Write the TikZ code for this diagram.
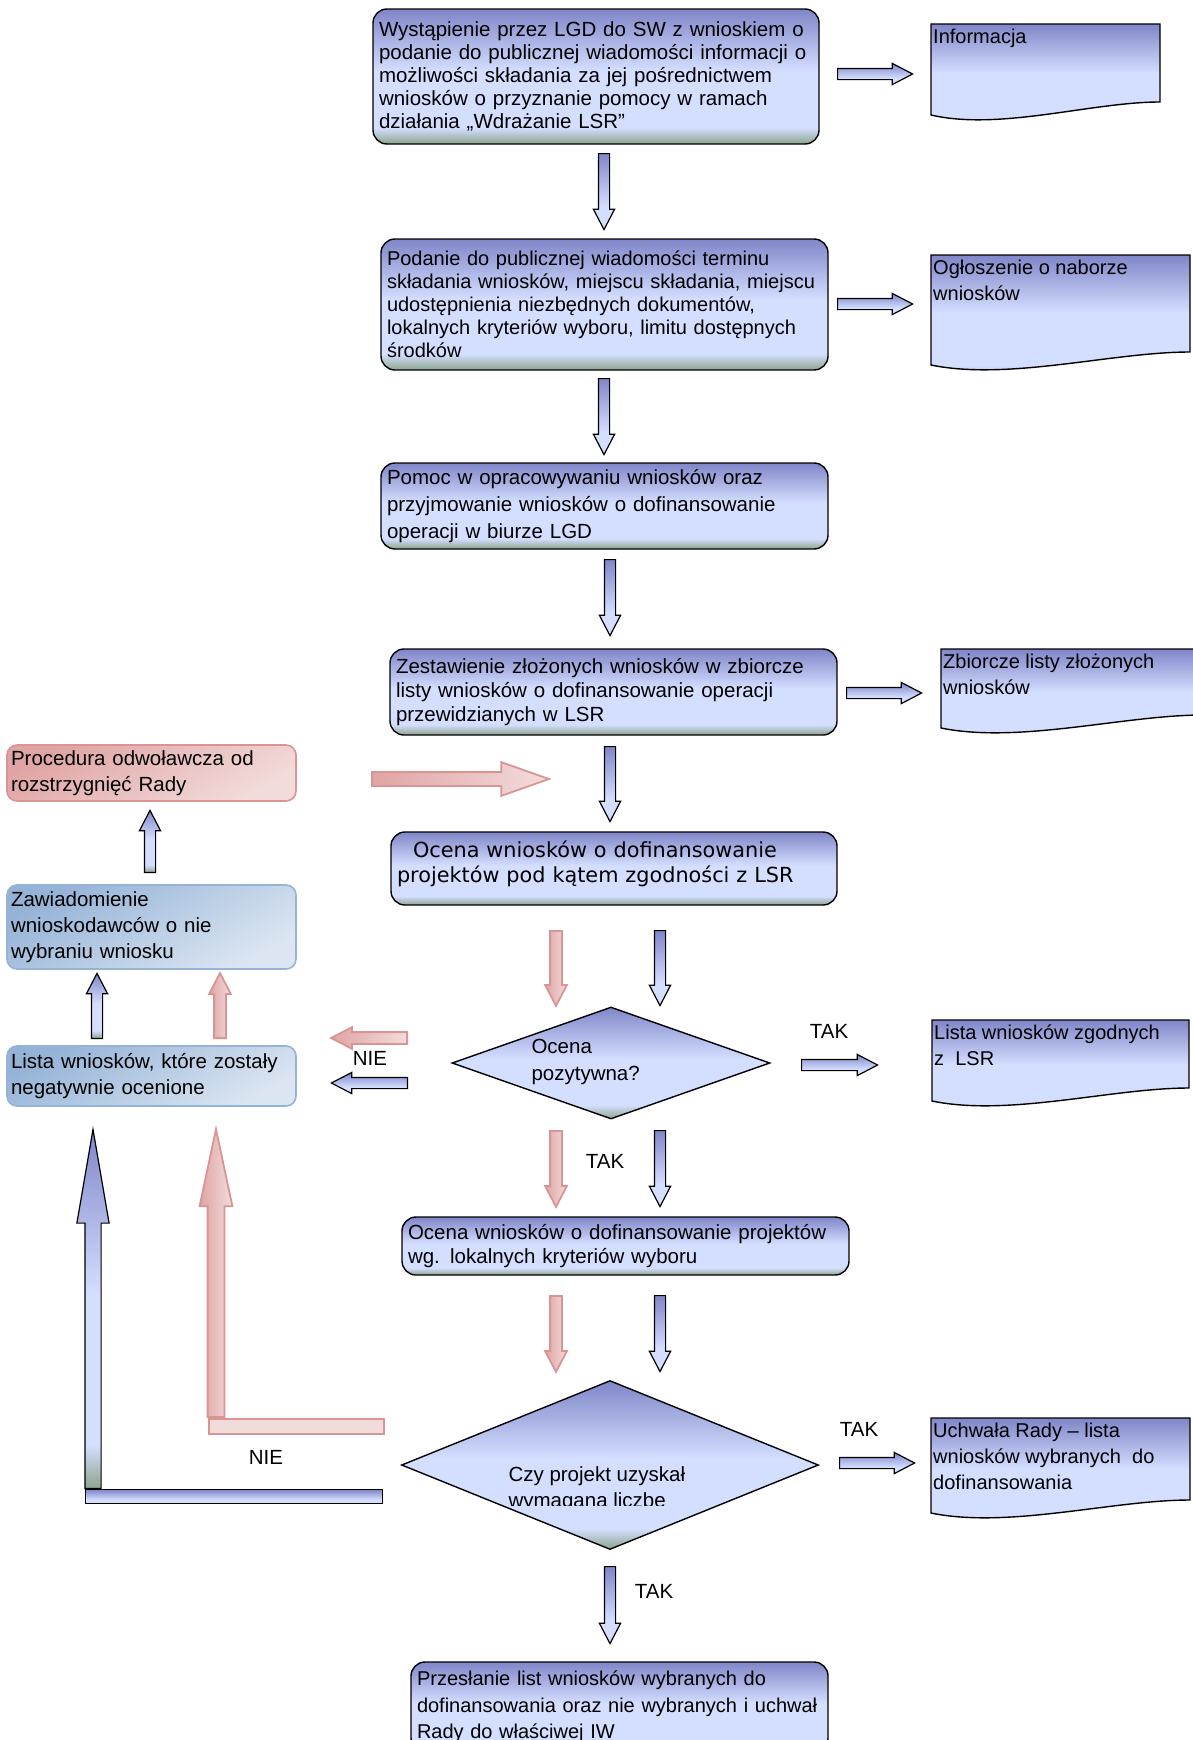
\documentclass[tikz,border=0pt]{standalone}
\usepackage{fontspec}
\setmainfont{Liberation Sans}
\newfontfamily\verdanafont{DejaVu Sans}
\usetikzlibrary{
  calc,
  positioning,
  shapes,
}
\definecolor{bdark}{RGB}{128,134,200}
\definecolor{blight}{RGB}{212,222,255}
\definecolor{bgreen}{RGB}{140,164,140}
\definecolor{pinkline}{RGB}{217,149,148}
\definecolor{pinkdark}{RGB}{224,164,164}
\definecolor{pinkfill}{RGB}{242,220,219}
\definecolor{steel}{RGB}{149,179,215}
\definecolor{steellight}{RGB}{220,230,242}
\pgfdeclareverticalshading{boxshade}{100bp}{color(0bp)=(bgreen); color(25bp)=(bgreen);
  color(31bp)=(blight); color(52bp)=(blight); color(75bp)=(bdark); color(100bp)=(bdark)}
\pgfdeclareverticalshading{arrshade}{100bp}{color(0bp)=(blight); color(40bp)=(blight);
  color(75bp)=(bdark); color(100bp)=(bdark)}
\tikzset{
  x=1pt, y=-1pt,
  txt/.style={font=\fontsize{20.5}{#1}\selectfont},
  txt/.default=23,
  box/.style={draw, line width=1.4pt, rounded corners=14pt, shade, shading=boxshade,
    align=left, inner xsep=6pt, inner ysep=0pt},
  sbox/.style={draw=steel, line width=1.6pt, rounded corners=10pt, align=left,
    inner xsep=4pt, inner ysep=0pt, top color=steel, bottom color=steellight,
    shading angle=30},
  rbox/.style={sbox, draw=pinkline, top color=pinkdark, bottom color=pinkfill,
    shading angle=30},
  doc/.style={draw, line width=1.4pt, shade, shading=boxshade},
  doctxt/.style={anchor=north west, align=left, inner xsep=2pt, inner ysep=5pt,
    font=\fontsize{20}{26}\selectfont},
  dec/.style={diamond, draw, line width=1.4pt, shade, shading=boxshade, inner sep=0pt},
  arr/.style={single arrow, anchor=tail, inner sep=5pt, minimum height=76pt,
    single arrow head extend=5pt, single arrow tip angle=55},
  barr/.style={arr, draw, line width=1.2pt, shade, shading=arrshade},
  rarr/.style={arr, draw=pinkline, line width=1.8pt, left color=pinkdark,
    right color=pinkfill},
  bar/.style={anchor=north west, minimum height=14pt, inner sep=0pt},
}
% document shape: corner, width, height
\newcommand\docpath[3]{%
  \draw[doc] (#1) -- ++(#2,0) -- ++(0,#3-13)
    .. controls +(-0.3*#2,0) and +(0.3*#2,16) .. ($(#1)+(0,#3)$) -- cycle;
}

\begin{document}
\begin{tikzpicture}
  \useasboundingbox (0,0) rectangle (1193,1740);
  % main column
  \node[box, txt, text width=434pt, minimum height=135pt](b1) at (596,76.5)
    {\mbox{Wystąpienie przez LGD do SW z wnioskiem o}\\\mbox{podanie do publicznej wiadomości informacji o}\\możliwości składania za jej pośrednictwem\\wniosków o przyznanie pomocy w ramach\\działania „Wdrażanie LSR”};
  \node[box, font=\fontsize{20}{23}\selectfont, text width=435pt, minimum height=131pt](b2) at (604.5,304.5)
    {Podanie do publicznej wiadomości terminu\\\mbox{składania wniosków, miejscu składania, miejscu}\\udostępnienia niezbędnych dokumentów,\\\mbox{lokalnych kryteriów wyboru, limitu dostępnych}\\środków};
  \node[box, txt=26.6, text width=435pt, minimum height=86pt](b3) at (604.5,506)
    {Pomoc w opracowywaniu wniosków oraz\\przyjmowanie wniosków o dofinansowanie\\operacji w biurze LGD};
  \node[box, txt=24, text width=435pt, minimum height=86pt](b4) at (613.5,692)
    {Zestawienie złożonych wniosków w zbiorcze\\listy wniosków o dofinansowanie operacji\\przewidzianych w LSR};
  \node[box, font=\verdanafont\fontsize{20.8}{24.5}\selectfont, text width=434pt,
    text depth=38.5pt, minimum height=73pt](b5) at (614,868.5)
    {\hspace*{16pt}Ocena wniosków o dofinansowanie\\projektów pod kątem zgodności z LSR};
  \node[dec, minimum width=318pt, minimum height=112pt](d1) at (611,1063){};
  \node[txt=27, align=left, anchor=west](d1t) at (528,1062){Ocena\\pozytywna?};
  \node[box, txt=24.4, text width=435pt, minimum height=58pt](b6) at (625.5,1246)
    {\mbox{Ocena wniosków o dofinansowanie projektów}\\wg. lokalnych kryteriów wyboru};
  \node[dec, minimum width=417pt, minimum height=169pt](d2) at (610,1465){};
  \begin{scope}
    \clip (402,1400) rectangle (820,1505);
    \node[txt=26, align=left, anchor=west](d2t) at (505,1489)
      {Czy projekt uzyskał\\wymaganą liczbę};
  \end{scope}
  \node[box, font=\fontsize{20}{26.6}\selectfont, text width=405pt, minimum height=90pt](b7) at (619.5,1707)
    {\mbox{Przesłanie list wniosków wybranych do}\\\mbox{dofinansowania oraz nie wybranych i uchwał}\\\mbox{Rady do właściwej IW}};
  %% documents
  \coordinate (infc) at (931,24);
  \docpath{infc}{229}{91}
  \node[doctxt](inf) at (infc){Informacja};
  \coordinate (oglc) at (931,255);
  \docpath{oglc}{259}{110}
  \node[doctxt](ogl) at (oglc){Ogłoszenie o naborze\\wniosków};
  \coordinate (zbc) at (941,649);
  \docpath{zbc}{262}{79}
  \node[doctxt](zb) at (zbc){Zbiorcze listy złożonych\\wniosków};
  \coordinate (lzc) at (932,1020);
  \docpath{lzc}{257}{81}
  \node[doctxt](lz) at (lzc){Lista wniosków zgodnych\\z\ \ LSR};
  \coordinate (uchc) at (931,1418);
  \docpath{uchc}{259}{95}
  \node[doctxt](uch) at (uchc){Uchwała Rady – lista\\wniosków wybranych\ \ do\\dofinansowania};
  %% left column
  \node[rbox, txt=26.6, text width=281pt, minimum height=56pt](pr) at (151.5,773)
    {Procedura odwoławcza od\\rozstrzygnięć Rady};
  \node[sbox, txt=26, text width=281pt, minimum height=84pt](za) at (151.5,927)
    {Zawiadomienie\\wnioskodawców o nie\\wybraniu wniosku};
  \node[sbox, txt=26.6, text width=281pt, minimum height=60pt](ln) at (151.5,1076)
    {Lista wniosków, które zostały\\negatywnie ocenione};
  %% labels
  \node[txt](tak1) at (829,1031){TAK};
  \node[txt](nie1) at (370,1058){NIE};
  \node[txt](tak2) at (605,1161){TAK};
  \node[txt](tak3) at (859,1429){TAK};
  \node[txt](nie2) at (266,1457){NIE};
  \node[txt](tak4) at (654,1591){TAK};
  %% block arrows
  \node[barr, shape border rotate=270](v1) at (604,153){};
  \node[barr, shape border rotate=270](v2) at (604,378){};
  \node[barr, shape border rotate=270](v3) at (610,559){};
  \node[barr, shape border rotate=270, minimum height=75pt](v4) at (610,746){};
  \node[barr, shape border rotate=270, minimum height=75pt](v5) at (660,930){};
  \node[rarr, shape border rotate=270, minimum height=75pt](r5) at (556,930){};
  \node[barr, shape border rotate=270](v6) at (660,1130){};
  \node[rarr, shape border rotate=270](r6) at (556,1130){};
  \node[barr, shape border rotate=270](v7) at (660,1295){};
  \node[rarr, shape border rotate=270](r7) at (556,1295){};
  \node[barr, shape border rotate=270, minimum height=77pt](v8) at (610,1566){};
  \node[barr, minimum height=75pt](h1) at (837,74){};
  \node[barr, minimum height=75pt](h2) at (837,304){};
  \node[barr, minimum height=75pt](h4) at (846,693){};
  \node[barr](h5) at (801,1065){};
  \node[barr, minimum height=75pt](h6) at (839,1463){};
  \node[rarr, shape border rotate=180](lr) at (408,1038){};
  \node[barr, shape border rotate=180](lb) at (408,1083){};
  \node[barr, shading=boxshade, shape border rotate=90, minimum height=62pt](u1) at (150,873){};
  \node[barr, shading=boxshade, shape border rotate=90, minimum height=65pt](u2) at (97,1039){};
  \node[rarr, shape border rotate=90, minimum height=65pt](ru2) at (220,1039){};
  \node[rarr, inner sep=6pt, single arrow head extend=10pt, single arrow tip angle=39,
    minimum height=177pt](pa) at (371,779){};
  %% long returns
  \node[bar, draw=pinkline, line width=1.8pt, fill=pinkfill, minimum width=175pt,
    minimum height=15pt](rbar) at (208,1418){};
  \node[rarr, shape border rotate=90, inner sep=7.5pt, single arrow head extend=8pt,
    single arrow tip angle=24, minimum height=288pt](rl) at (216,1418){};
  \node[bar, draw, line width=1.4pt, shade, shading=arrshade, minimum width=297pt](bbar)
    at (85,1489){};
  \node[barr, shading=boxshade, shape border rotate=90, inner sep=7.5pt,
    single arrow head extend=8pt, single arrow tip angle=19.5,
    minimum height=359pt](bl) at (93,1489){};
\end{tikzpicture}
\end{document}
